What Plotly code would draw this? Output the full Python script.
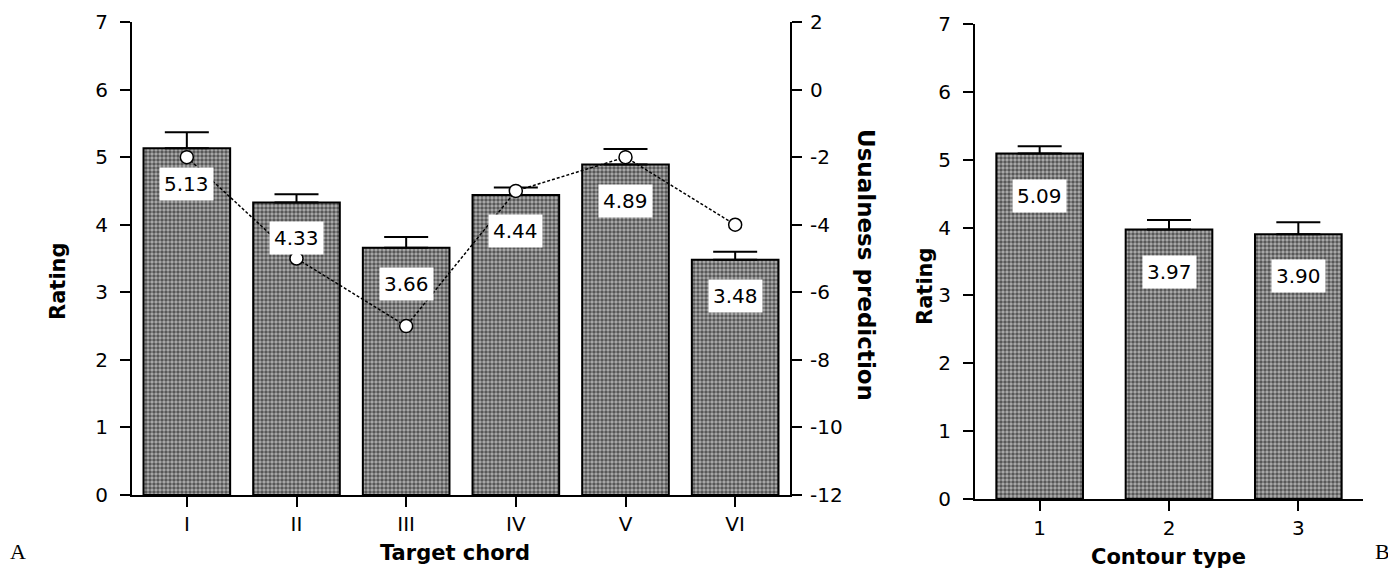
import plotly.graph_objects as go

# ---- data ----
chords = ["I", "II", "III", "IV", "V", "VI"]
chord_rating = [5.13, 4.33, 3.66, 4.44, 4.89, 3.48]
chord_err = [0.24, 0.12, 0.16, 0.11, 0.23, 0.12]
usualness = [-2, -5, -7, -3, -2, -4]

contours = ["1", "2", "3"]
contour_rating = [5.09, 3.97, 3.90]
contour_err = [0.11, 0.14, 0.18]

rating_ticks = [0, 1, 2, 3, 4, 5, 6, 7]
usual_ticks = [-12, -10, -8, -6, -4, -2, 0, 2]

W, H = 1396, 570
OFF = 8  # page body offset
FONT = "DejaVu Sans"
TICKFONT = dict(family=FONT, size=20, color="black")
TITLEFONT = dict(family=FONT, size=21, color="black", weight="bold")

pattern = dict(shape=".", size=4, solidity=0.6, fgcolor="#000000", bgcolor="#b0b0b0")

def px_x(p):
    return (p - OFF) / W

def px_y(p):
    return 1 - (p - OFF) / H

fig = go.Figure()

fig.add_trace(go.Bar(
    x=chords, y=chord_rating, xaxis="x", yaxis="y", width=0.79,
    marker=dict(color="#b0b0b0", pattern=pattern, line=dict(color="black", width=2)),
    error_y=dict(type="data", symmetric=False, array=chord_err,
                 arrayminus=[0] * len(chord_err), color="black", thickness=2, width=22),
    showlegend=False,
))
fig.add_trace(go.Scatter(
    x=chords, y=usualness, xaxis="x", yaxis="y2", mode="lines+markers",
    line=dict(color="black", width=1.5, dash="3px,2px"),
    marker=dict(symbol="circle", size=13, color="white", line=dict(color="black", width=1.5)),
    showlegend=False,
))
fig.add_trace(go.Bar(
    x=contours, y=contour_rating, xaxis="x3", yaxis="y3", width=0.67,
    marker=dict(color="#b0b0b0", pattern=pattern, line=dict(color="black", width=2)),
    error_y=dict(type="data", symmetric=False, array=contour_err,
                 arrayminus=[0] * len(contour_err), color="black", thickness=2, width=22),
    showlegend=False,
))

axis_common = dict(showline=True, linecolor="black", linewidth=2, ticks="outside",
                   ticklen=10, tickwidth=2, tickcolor="black", showgrid=False,
                   zeroline=False, tickfont=TICKFONT, automargin=False)

fig.update_layout(
    width=W, height=H,
    margin=dict(l=0, r=0, t=0, b=0),
    paper_bgcolor="white", plot_bgcolor="white",
    xaxis=dict(domain=[px_x(132), px_x(790)], anchor="y", type="category",
               range=[-0.5, 5.5], ticklabelstandoff=0, **axis_common),
    yaxis=dict(domain=[px_y(495), px_y(22)], anchor="x", range=[0, 7],
               tickvals=rating_ticks, ticklabelstandoff=8, **axis_common),
    yaxis2=dict(overlaying="y", side="right", anchor="x", range=[-12, 2],
                tickvals=usual_ticks, ticktext=[str(v) for v in usual_ticks],
                ticklabelstandoff=4, **axis_common),
    xaxis3=dict(domain=[px_x(975), px_x(1363)], anchor="y3", type="category",
                range=[-0.5, 2.5], ticklabelstandoff=0, **axis_common),
    yaxis3=dict(domain=[px_y(499), px_y(24)], anchor="x3", range=[0, 7],
                tickvals=rating_ticks, ticklabelstandoff=8, **axis_common),
)

annotations = []
for i, v in enumerate(chord_rating):
    annotations.append(dict(x=i, y=v, xref="x", yref="y", text=f"{v:.2f}", showarrow=False,
                            yshift=-36, bgcolor="white", borderpad=4,
                            font=dict(family=FONT, size=20, color="black")))
for i, v in enumerate(contour_rating):
    annotations.append(dict(x=i, y=v, xref="x3", yref="y3", text=f"{v:.2f}", showarrow=False,
                            yshift=-42, bgcolor="white", borderpad=4,
                            font=dict(family=FONT, size=20, color="black")))

annotations += [
    dict(x=px_x(455), y=px_y(553), xref="paper", yref="paper", text="Target chord",
         showarrow=False, font=TITLEFONT, xanchor="center", yanchor="middle"),
    dict(x=px_x(1168), y=px_y(557), xref="paper", yref="paper", text="Contour type",
         showarrow=False, font=TITLEFONT, xanchor="center", yanchor="middle"),
    dict(x=px_x(58), y=px_y(281), xref="paper", yref="paper", text="Rating", textangle=-90,
         showarrow=False, font=TITLEFONT, xanchor="center", yanchor="middle"),
    dict(x=px_x(925), y=px_y(286), xref="paper", yref="paper", text="Rating", textangle=-90,
         showarrow=False, font=TITLEFONT, xanchor="center", yanchor="middle"),
    dict(x=px_x(866), y=px_y(265), xref="paper", yref="paper", text="Usualness prediction",
         textangle=90, showarrow=False, font=dict(family=FONT, size=23, color="black", weight="bold"),
         xanchor="center", yanchor="middle"),
    dict(x=px_x(18), y=px_y(551), xref="paper", yref="paper", text="A", showarrow=False,
         font=dict(family="Liberation Serif", size=22, color="black"), xanchor="center", yanchor="middle"),
    dict(x=px_x(1382), y=px_y(551), xref="paper", yref="paper", text="B", showarrow=False,
         font=dict(family="Liberation Serif", size=22, color="black"), xanchor="center", yanchor="middle"),
]
fig.update_layout(annotations=annotations)

fig.write_html("out.html")
